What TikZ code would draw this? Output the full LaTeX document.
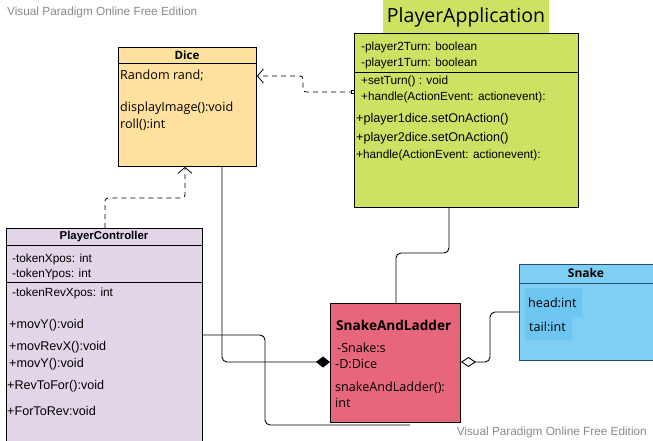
\documentclass[tikz,border=0pt]{standalone}
\usepackage{fontspec}
\setmainfont{Liberation Sans}
\newfontfamily\notosans{Open Sans}
\usetikzlibrary{arrows.meta}

\definecolor{dicefill}{HTML}{FFE09E}
\definecolor{appfill}{HTML}{CDE163}
\definecolor{ctrlfill}{HTML}{E1D5E7}
\definecolor{salfill}{HTML}{E7667B}
\definecolor{snakefill}{HTML}{7FCEF4}
\definecolor{snakemark}{HTML}{6CC6F1}
\definecolor{snakeline}{HTML}{1F4E6B}
\definecolor{markgray}{HTML}{8A8A8A}

\tikzset{
  classbox/.style={draw, line width=0.9pt, rectangle, anchor=north west, inner sep=0pt},
  member/.style={anchor=west, inner sep=0pt, font=\fontsize{11.8}{13}\selectfont},
  bigmember/.style={anchor=west, inner sep=0pt, font=\fontsize{12.6}{14}\selectfont},
  notomember/.style={anchor=west, inner sep=0pt, font=\notosans\fontsize{12.6}{14}\selectfont},
  classtitle/.style={inner sep=0pt, font=\bfseries\fontsize{11.4}{13}\selectfont},
  dep/.style={dashed, dash pattern=on 5pt off 4pt, line width=0.8pt, rounded corners=3pt,
    -{Straight Barb[length=6pt,width=14pt,line width=0.8pt]}},
  link/.style={line width=0.9pt, rounded corners=5pt},
  watermark/.style={inner sep=0pt, text=markgray, font=\fontsize{11.8}{13}\selectfont}
}

\begin{document}
\begin{tikzpicture}[x=1pt,y=-1pt]
\useasboundingbox[fill=white] (0,0) rectangle (653,441);

\node[watermark, anchor=west] (wmtop) at (7,12) {Visual Paradigm Online Free Edition};
\node[watermark, anchor=east] (wmbot) at (647,432) {Visual Paradigm Online Free Edition};

\node[classbox, fill=dicefill, minimum width=138pt, minimum height=119pt] (dice) at (118,47) {};
\draw[line width=0.9pt] (118,63) -- (256,63);
\node[classtitle, font=\notosans\bfseries\fontsize{11.5}{13}\selectfont] (dicet) at (187,55) {Dice};
\node[notomember] (dice1) at (120,76) {Random rand;};
\node[notomember] (dice2) at (120,108) {displayImage():void};
\node[notomember] (dice3) at (120,125) {roll():int};

\fill[appfill] (383,0) rectangle (549,33);
\node[inner sep=0pt, font=\notosans\fontsize{19.5}{22}\selectfont] (appt) at (466,17) {PlayerApplication};
\node[classbox, fill=appfill, minimum width=224pt, minimum height=174pt] (app) at (354,33) {};
\draw[line width=0.9pt] (354,72) -- (578,72);
\node[member] (app1) at (361,47) {-player2Turn: boolean};
\node[member] (app2) at (361,63) {-player1Turn: boolean};
\node[member] (app3) at (361,81) {+setTurn() : void};
\node[member] (app4) at (361,97) {+handle(ActionEvent: actionevent):};
\node[bigmember] (app5) at (356,119) {+player1dice.setOnAction()};
\node[bigmember] (app6) at (356,138) {+player2dice.setOnAction()};
\node[member] (app7) at (356,155) {+handle(ActionEvent: actionevent):};

\node[classbox, fill=ctrlfill, minimum width=196pt, minimum height=220pt] (ctrl) at (6,228) {};
\draw[line width=0.9pt] (6,245) -- (202,245);
\draw[line width=0.9pt] (6,282) -- (202,282);
\node[classtitle] (ctrlt) at (104,237) {PlayerController};
\node[member] (ctrl1) at (12,259) {-tokenXpos: int};
\node[member] (ctrl2) at (12,274) {-tokenYpos: int};
\node[member] (ctrl3) at (12,293) {-tokenRevXpos: int};
\node[bigmember] (ctrl4) at (9,325) {+movY():void};
\node[bigmember] (ctrl5) at (9,347) {+movRevX():void};
\node[bigmember] (ctrl6) at (9,364) {+movY():void};
\node[bigmember] (ctrl7) at (7,386) {+RevToFor():void};
\node[bigmember] (ctrl8) at (7,411) {+ForToRev:void};

\node[classbox, fill=salfill, minimum width=130pt, minimum height=119pt] (sal) at (330,303) {};
\node[notomember, font=\notosans\bfseries\fontsize{13.6}{15}\selectfont] (salt) at (336,325) {SnakeAndLadder};
\node[notomember] (sal1) at (337,348) {-Snake:s};
\node[notomember] (sal2) at (335,364) {-D:Dice};
\node[notomember] (sal3) at (335,388) {snakeAndLadder():};
\node[notomember] (sal4) at (335,403) {int};

\node[classbox, fill=snakefill, draw=snakeline, minimum width=134pt, minimum height=96pt] (snake) at (519,264) {};
\draw[line width=0.9pt, snakeline] (519,283) -- (653,283);
\fill[snakemark] (525,288) rectangle (582,317);
\fill[snakemark] (525,317) rectangle (572,340);
\node[classtitle, font=\notosans\bfseries\fontsize{12}{14}\selectfont] (snaket) at (586,273) {Snake};
\node[notomember] (snake1) at (528,303) {head:int};
\node[notomember] (snake2) at (529,327) {tail:int};

\draw[dep] (app.west |- 0,92) -- (303,92) -- (303,76) -- (dice.east |- 0,76);
\draw[line width=0.8pt, fill=white] (351,90.5) rectangle (354,93.5);
\draw[dep] (ctrl.north -| 105,0) -- (105,198) -- (185,198) -- (dice.south -| 185,0);
\draw[link, -{Diamond[length=14pt,width=11pt]}] (dice.south -| 222,0) -- (222,362) -- (sal.west |- 0,362);
\draw[link] (ctrl.east |- 0,335) -- (265,335) -- (265,425) -- (410,425);
\draw[link] (app.south -| 449,0) -- (449,253) -- (396,253) -- (sal.north -| 396,0);
\draw[link, -{Diamond[open,length=15pt,width=10pt,fill=white]}] (snake.west |- 0,312) -- (490,312) -- (490,362) -- (sal.east |- 0,362);
\end{tikzpicture}
\end{document}
